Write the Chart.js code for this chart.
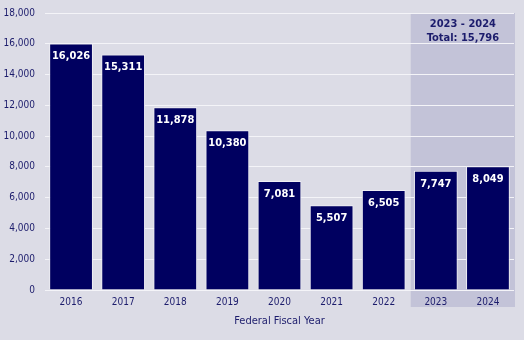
<!DOCTYPE html>
<html>
<head>
<meta charset="utf-8">
<script src="https://cdn.jsdelivr.net/npm/chart.js@4.4.1/dist/chart.umd.min.js"></script>
<style>
  html, body { margin: 0; padding: 0; background: #dcdce6; }
  #wrap { width: 524px; height: 340px; position: relative; }
</style>
</head>
<body>
<div id="wrap"><canvas id="fiscalChart" width="524" height="340"></canvas></div>
<script>
// Federal fiscal year totals
const years = ['2016', '2017', '2018', '2019', '2020', '2021', '2022', '2023', '2024'];
const counts = [16026, 15311, 11878, 10380, 7081, 5507, 6505, 7747, 8049];
const yTicks = [0, 2000, 4000, 6000, 8000, 10000, 12000, 14000, 16000, 18000];
const highlightYears = ['2023', '2024'];

const navy = '#000060';
const textColor = '#1c1c6c';
const fontFam = '"DejaVu Sans Condensed", "DejaVu Sans", sans-serif';

const fmt = v => v.toLocaleString('en-US');

// shaded box behind the last two years, with the combined total on top
const highlightBox = {
  id: 'highlightBox',
  beforeDraw(chart) {
    const ctx = chart.ctx;
    const x = chart.scales.x;
    const area = chart.chartArea;
    const i0 = years.indexOf(highlightYears[0]);
    const i1 = years.indexOf(highlightYears[highlightYears.length - 1]);
    const half = (x.getPixelForValue(1) - x.getPixelForValue(0)) / 2;
    const left = x.getPixelForValue(i0) - half + 1;
    const right = x.getPixelForValue(i1) + half + 1;
    ctx.save();
    ctx.fillStyle = 'rgba(150,150,190,0.35)';
    ctx.fillRect(left, area.top, right - left, area.bottom - area.top + 17);
    let total = 0;
    for (let i = i0; i <= i1; i++) total += counts[i];
    ctx.fillStyle = textColor;
    ctx.font = 'bold 11px ' + fontFam;
    ctx.textAlign = 'center';
    ctx.textBaseline = 'middle';
    const cx = (left + right) / 2;
    ctx.fillText(highlightYears[0] + ' - ' + highlightYears[highlightYears.length - 1], cx, area.top + 11);
    ctx.fillText('Total: ' + fmt(total), cx, area.top + 25);
    ctx.restore();
  }
};

// value printed inside the top of each bar
const barValues = {
  id: 'barValues',
  afterDatasetsDraw(chart) {
    const ctx = chart.ctx;
    const meta = chart.getDatasetMeta(0);
    ctx.save();
    ctx.fillStyle = '#ffffff';
    ctx.font = 'bold 11px ' + fontFam;
    ctx.textAlign = 'center';
    ctx.textBaseline = 'middle';
    meta.data.forEach((bar, i) => {
      ctx.fillText(fmt(counts[i]), bar.x, bar.y + 13);
    });
    ctx.restore();
  }
};

new Chart(document.getElementById('fiscalChart'), {
  type: 'bar',
  data: {
    labels: years,
    datasets: [{
      data: counts,
      backgroundColor: navy,
      borderColor: '#eeeef4',
      borderWidth: 1,
      barPercentage: 0.84,
      categoryPercentage: 1
    }]
  },
  options: {
    responsive: false,
    animation: false,
    layout: { padding: { top: 13, right: 10, left: 0, bottom: 0 } },
    plugins: { legend: { display: false }, tooltip: { enabled: false } },
    scales: {
      x: {
        grid: { display: false, drawTicks: false },
        border: { display: false },
        ticks: { color: textColor, font: { family: fontFam, size: 10 }, padding: 6 },
        title: {
          display: true,
          text: 'Federal Fiscal Year',
          color: textColor,
          font: { family: fontFam, size: 11 },
          padding: { top: 4, bottom: 12 }
        },
        afterFit(scale) { scale.height = 50; }
      },
      y: {
        min: 0,
        max: 18000,
        afterBuildTicks(scale) { scale.ticks = yTicks.map(v => ({ value: v })); },
        grid: { color: '#f4f4f8', lineWidth: 1, drawTicks: false },
        border: { display: false },
        ticks: {
          color: textColor,
          font: { family: fontFam, size: 10 },
          padding: 10,
          callback: v => fmt(v)
        },
        afterFit(scale) {
          scale.width = 45;
          scale.paddingTop = 0;
          scale.paddingBottom = 0;
        }
      }
    }
  },
  plugins: [highlightBox, barValues]
});
</script>
</body>
</html>
